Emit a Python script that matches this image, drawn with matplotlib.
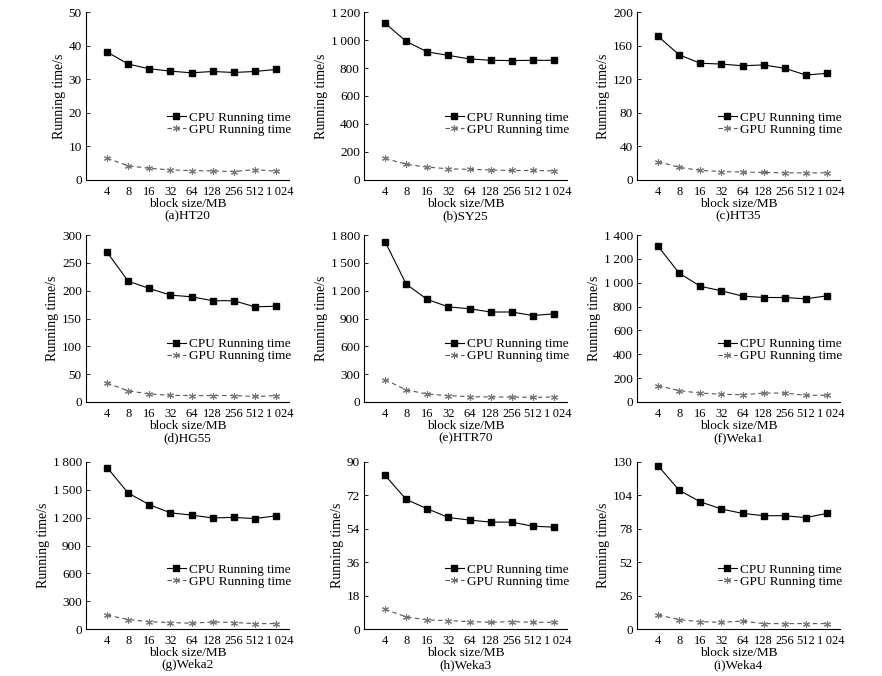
import matplotlib
matplotlib.use("Agg")
import matplotlib.pyplot as plt
from matplotlib.transforms import ScaledTranslation

plt.rcParams['font.family'] = ['Liberation Serif', 'DejaVu Serif']
plt.rcParams['font.size'] = 9

# x categories (block size in MB)
block_labels = ["4", "8", "16", "32", "64", "128", "256", "512", "1\u2009024"]

# running times
cpu_ht20 = [38.1, 34.5, 33.1, 32.4, 31.9, 32.3, 32.0, 32.3, 32.9]
gpu_ht20 = [6.5, 4.2, 3.5, 3.0, 2.8, 2.7, 2.5, 3.1, 2.6]
cpu_sy25 = [1120, 990, 915, 890, 865, 855, 853, 855, 855]
gpu_sy25 = [155, 112, 92, 80, 76, 72, 68, 68, 65]
cpu_ht35 = [171, 149, 139, 138, 136, 137, 133, 125, 127]
gpu_ht35 = [22, 15, 11.5, 10, 9.5, 9, 8.5, 8.5, 8.5]
cpu_hg55 = [269, 217, 204, 192, 189, 182, 182, 171, 172]
gpu_hg55 = [34, 20, 14.5, 12, 11.5, 11.5, 11.5, 10, 11.5]
cpu_htr70 = [1728, 1270, 1105, 1025, 1005, 970, 970, 932, 950]
gpu_htr70 = [240, 130, 86, 68, 58, 54, 54, 50, 54]
cpu_weka1 = [1305, 1080, 970, 932, 888, 876, 876, 865, 890]
gpu_weka1 = [137, 95, 75, 65, 60, 75, 75, 56, 56]
cpu_weka2 = [1740, 1465, 1340, 1252, 1228, 1197, 1203, 1190, 1220]
gpu_weka2 = [150, 102, 78, 70, 62, 76, 70, 58, 58]
cpu_weka3 = [82.8, 69.8, 64.8, 60.1, 58.7, 57.6, 57.6, 55.4, 54.9]
gpu_weka3 = [10.6, 6.5, 4.9, 4.5, 4.0, 3.6, 4.0, 3.6, 3.6]
cpu_weka4 = [127, 108, 99, 93.4, 90, 88.2, 88.2, 86.7, 90]
gpu_weka4 = [10.9, 7.3, 5.7, 5.2, 6.2, 4.2, 4.2, 4.2, 4.2]

# y ticks per panel
yt_ht20 = [0, 10, 20, 30, 40, 50]
yt_sy25 = [0, 200, 400, 600, 800, 1000, 1200]
yt_ht35 = [0, 40, 80, 120, 160, 200]
yt_hg55 = [0, 50, 100, 150, 200, 250, 300]
yt_htr70 = [0, 300, 600, 900, 1200, 1500, 1800]
yt_weka1 = [0, 200, 400, 600, 800, 1000, 1200, 1400]
yt_weka2 = [0, 300, 600, 900, 1200, 1500, 1800]
yt_weka3 = [0, 18, 36, 54, 72, 90]
yt_weka4 = [0, 26, 52, 78, 104, 130]

captions = ["(a)HT20", "(b)SY25", "(c)HT35", "(d)HG55", "(e)HTR70",
            "(f)Weka1", "(g)Weka2", "(h)Weka3", "(i)Weka4"]

panels = [
    (cpu_ht20, gpu_ht20, yt_ht20), (cpu_sy25, gpu_sy25, yt_sy25), (cpu_ht35, gpu_ht35, yt_ht35),
    (cpu_hg55, gpu_hg55, yt_hg55), (cpu_htr70, gpu_htr70, yt_htr70), (cpu_weka1, gpu_weka1, yt_weka1),
    (cpu_weka2, gpu_weka2, yt_weka2), (cpu_weka3, gpu_weka3, yt_weka3), (cpu_weka4, gpu_weka4, yt_weka4),
]

W, H = 882, 676
fig = plt.figure(figsize=(W / 100, H / 100), dpi=100)

col_left = [86, 364, 637]
row_top = [12, 235, 462]
row_bot = [180, 402, 629]
leg_y = [0.335, 0.31, 0.32]
ax_w = 202.6


def fmt(v):
    return f"{v:,}".replace(",", "\u2009")


x = list(range(len(block_labels)))
for i, (cpu, gpu, yt) in enumerate(panels):
    r, c = divmod(i, 3)
    ax_h = row_bot[r] - row_top[r]
    rect = [col_left[c] / W, 1 - row_bot[r] / H, ax_w / W, ax_h / H]
    ax = fig.add_axes(rect)
    ax.plot(x, cpu, color='black', lw=0.8, marker='s', ms=4, label='CPU Running time')
    ax.plot(x, gpu, color='#555555', lw=0.8, ls=(0, (4, 3)), marker=(6, 2, 0), ms=5,
            mec='#777777', mew=0.8, label='GPU Running time')
    ax.set_xlim(-1, 8.6)
    ax.set_ylim(yt[0], yt[-1])
    ax.set_yticks(yt)
    ax.set_yticklabels([fmt(v) for v in yt])
    ax.set_xticks(x)
    ax.set_xticklabels(block_labels)
    ax.tick_params(axis='y', labelsize=9.5, direction='in', length=3, width=0.6, pad=3)
    ax.tick_params(axis='x', labelsize=9, length=0, pad=4)
    # the last label sits a little to the right in the original
    last = ax.get_xticklabels()[-1]
    last.set_transform(last.get_transform() + ScaledTranslation(4 / 100, 0, fig.dpi_scale_trans))
    for s in ['top', 'right']:
        ax.spines[s].set_visible(False)
    for s in ['left', 'bottom']:
        ax.spines[s].set_linewidth(0.8)
    ax.set_ylabel('Running time/s', labelpad=2, fontsize=10)
    ax.set_xlabel('block size/MB', labelpad=0, fontsize=9.5)
    ax.text(0.5, -36 / ax_h, captions[i], transform=ax.transAxes, ha='center', va='center',
            fontsize=9.5)
    ax.legend(loc='center left', bbox_to_anchor=(0.40, leg_y[r]), frameon=False,
              handlelength=1.4, handletextpad=0.3, labelspacing=0.0,
              borderpad=0, borderaxespad=0, fontsize=9.5)

fig.savefig('out.png', dpi=100)
